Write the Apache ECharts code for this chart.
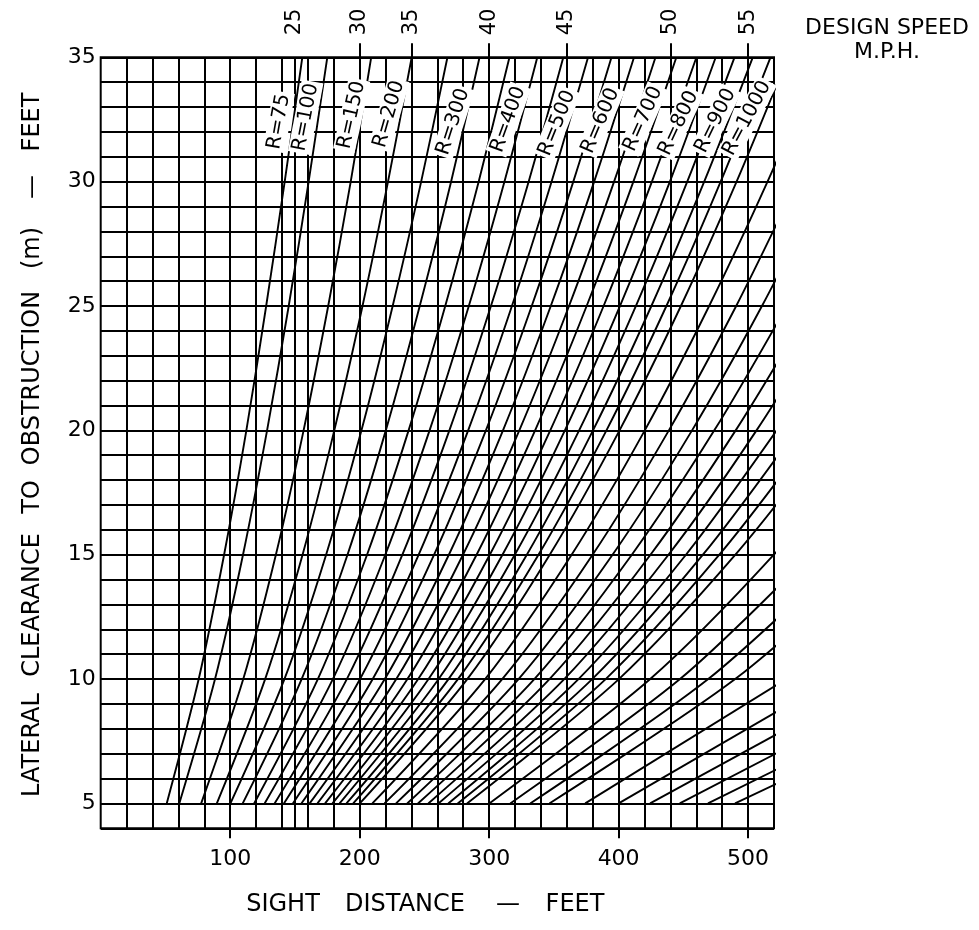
<!DOCTYPE html>
<html><head><meta charset="utf-8">
<script src="https://cdn.jsdelivr.net/npm/echarts@6/dist/echarts.min.js"></script>
<style>html,body{margin:0;padding:0;background:#fff}#c{width:979px;height:930px}</style>
</head><body><div id="c"></div>
<script>
// ---- data ----
const radii = [75,100,150,200,250,300,350,400,450,500,550,600,650,700,750,800,850,900,950,1000,
  1100,1200,1300,1400,1500,1600,1700,1800,1900,2000,2250,2500,2750,3000,3500,4000,4500,5000,5500,6000];
const clearanceLevels = [5,10,15,20,25,30,35];
// sight distance (ft) where each R curve crosses the clearance level
const sightAt5  = [51,60.7,77.6,89.7,100.2,109.7,118.5,126.6,134.3,141.5,148.4,155.0,161.4,167.4,173.3,179.0,184.5,189.8,195.0,200.1,
  209.8,219.2,228.1,236.7,245.0,253.0,260.8,268.4,275.7,282.9,300.1,316.3,331.7,346.5,374.2,400.0,424.3,447.2,469.0,489.9];
const sightAt10 = [75.7,88.3,110.1,127.0,141.9,155.2,167.7,179.3,190.1,200.3,210.1,219.4,228.3,236.9,245.2,253.2,261.0,268.6,275.9,283.1,
  296.9,310.1,322.7,334.9,346.6,358.0,369.0,379.6,390.0,400.2,424.4,447.4,469.2,490.0,529.3,565.7,600.0,632.5,663.3,692.8];
const sightAt15 = [95.3,109.9,135.3,155.9,174.1,190.6,205.7,219.8,233.0,245.6,257.5,268.9,279.8,290.3,300.5,310.3,319.8,329.1,338.1,346.8,
  363.7,379.9,395.3,410.2,424.6,438.5,452.0,465.1,477.8,490.2,519.9,548.0,574.7,600.3,null,null,null,null,null,null];
const sightAt20 = [112.5,128.5,156.7,180.4,201.4,220.2,237.8,254.0,269.3,283.8,297.5,310.7,323.3,335.5,347.2,358.5,369.5,380.2,390.6,400.7,
  420.2,438.8,456.7,473.9,490.4,506.5,522.1,537.2,551.8,566.2,600.4,null,null,null,null,null,null,null,null,null];
const sightAt25 = [127.8,145.2,175.7,202.2,225.5,246.4,266.1,284.3,301.4,317.6,332.9,347.6,361.7,375.3,388.4,401.0,413.3,425.3,436.9,448.1,
  469.9,490.8,510.7,529.9,548.5,566.4,null,null,null,null,null,null,null,null,null,null,null,null,null,null];
const sightAt30 = [142.1,160.6,193.1,221.9,247.5,270.6,291.9,311.8,330.5,348.2,365.0,381.1,396.5,411.4,425.7,439.6,453.0,466.1,478.8,491.1,
  515.0,537.8,559.6,null,null,null,null,null,null,null,null,null,null,null,null,null,null,null,null,null];
const sightAt35 = [155.7,175.0,208.9,240.2,267.8,292.6,315.7,337.2,357.3,376.4,394.5,411.9,428.5,444.6,460.1,475.0,489.5,503.6,517.3,530.7,
  556.5,null,null,null,null,null,null,null,null,null,null,null,null,null,null,null,null,null,null,null];
const sightColumns = [sightAt5,sightAt10,sightAt15,sightAt20,sightAt25,sightAt30,sightAt35];

const labelRadii = [75,100,150,200,300,400,500,600,700,800,900,1000];
const labelSight = [137.6,158.3,193.8,222.6,272.2,314.8,352.5,386.0,418.9,446.4,474.8,499.2];
const labelClear = [32.41,32.59,32.68,32.71,32.41,32.5,32.35,32.45,32.52,32.35,32.45,32.55];
const labelAngle = [80,79,77.5,74,72,70,68,67,66,65,64,62];

const speedSight = [150,200,240,300,360,440,500];
const speedMph   = [25,30,35,40,45,50,55];
const speedTickSight = [200,240,300,360,440,500];
const xTickValues = [100,200,300,400,500];
const yLabelValues = [5,10,15,20,25,30,35];
const extraGridSight = [150];
const yTitleWords = ['LATERAL','CLEARANCE','TO','OBSTRUCTION','(m)','—','FEET'];
const yTitleWordY = [745,605,497,378,248,187,122];
const xTitleWords = ['SIGHT','DISTANCE','—','FEET'];
const xTitleWordX = [283,405,508,575];

// ---- chart ----
const FONT = 'DejaVu Sans';
const BLACK = '#000';
const chart = echarts.init(document.getElementById('c'), null, {renderer:'canvas', width:979, height:930});

const curveSeries = radii.map((r, k) => ({
  type: 'line', name: 'R=' + r,
  data: clearanceLevels.map((m, i) => [sightColumns[i][k], m]).filter(p => p[0] != null),
  xAxisIndex: 0, yAxisIndex: 0,
  showSymbol: false, symbol: 'none', smooth: 0.3, clip: true, silent: true,
  lineStyle: {color: BLACK, width: 1.9}, z: 3,
  markLine: k === 0 ? {
    silent: true, symbol: ['none','none'], label: {show: false},
    lineStyle: {color: BLACK, type: 'solid', width: 2},
    data: extraGridSight.map(v => ({xAxis: v}))
  } : undefined
}));

const gridLine = {color: BLACK, width: 2};
chart.setOption({
  animation: false,
  backgroundColor: '#fff',
  grid: {left: 100.7, top: 57.3, right: 205, bottom: 101.7, show: true, borderColor: BLACK, borderWidth: 2, backgroundColor: 'transparent'},
  xAxis: [
    {type: 'value', min: 0, max: 520, interval: 100, position: 'bottom',
      axisLine: {show: false},
      axisTick: {show: true, inside: false, length: 10, customValues: xTickValues, lineStyle: gridLine},
      axisLabel: {show: true, customValues: xTickValues, margin: 20, fontSize: 22, color: BLACK, fontFamily: FONT,
        formatter: v => (v % 100 === 0 && v > 0 && v <= 500) ? String(v) : ''},
      splitLine: {show: true, lineStyle: gridLine},
      minorTick: {show: false, splitNumber: 5},
      minorSplitLine: {show: true, lineStyle: gridLine}},
    {type: 'value', min: 0, max: 520, interval: 20, position: 'top',
      axisLine: {show: false},
      axisTick: {show: true, inside: false, length: 14, customValues: speedTickSight, lineStyle: gridLine},
      axisLabel: {show: true, customValues: speedSight, rotate: -90, margin: 22, fontSize: 21, color: BLACK, fontFamily: FONT,
        formatter: v => { const i = speedSight.indexOf(v); return i >= 0 ? String(speedMph[i]) : ''; }},
      splitLine: {show: false}}
  ],
  yAxis: {type: 'value', min: 4, max: 35, interval: 1,
    axisLine: {show: false}, axisTick: {show: false},
    axisLabel: {show: true, customValues: yLabelValues, margin: 5, fontSize: 22, color: BLACK, fontFamily: FONT,
      formatter: v => (v % 5 === 0 && v >= 5) ? String(v) : ''},
    splitLine: {show: true, lineStyle: gridLine}},
  series: curveSeries
});

// text elements: R labels placed through the chart's own scales
const graphics = [];
labelRadii.forEach((r, i) => {
  const p = chart.convertToPixel({xAxisIndex: 0, yAxisIndex: 0}, [labelSight[i], labelClear[i]]);
  graphics.push({type: 'text', x: p[0], y: p[1], rotation: labelAngle[i] * Math.PI / 180, z: 100,
    style: {text: 'R=' + r, fontFamily: FONT, fontSize: 20, fill: BLACK, backgroundColor: '#fff', padding: [1, 2],
      align: 'center', verticalAlign: 'middle'}});
});
yTitleWords.forEach((w, i) => graphics.push({type: 'text', x: 33, y: yTitleWordY[i], rotation: Math.PI / 2,
  style: {text: w, fontFamily: FONT, fontSize: 24, fill: BLACK, align: 'center', verticalAlign: 'middle'}}));
xTitleWords.forEach((w, i) => graphics.push({type: 'text', x: xTitleWordX[i], y: 905,
  style: {text: w, fontFamily: FONT, fontSize: 24, fill: BLACK, align: 'center', verticalAlign: 'middle'}}));
graphics.push({type: 'text', x: 887, y: 28,
  style: {text: 'DESIGN SPEED', fontFamily: FONT, fontSize: 22, fill: BLACK, align: 'center', verticalAlign: 'middle'}});
graphics.push({type: 'text', x: 887, y: 52,
  style: {text: 'M.P.H.', fontFamily: FONT, fontSize: 22, fill: BLACK, align: 'center', verticalAlign: 'middle'}});
chart.setOption({graphic: graphics});
</script></body></html>
